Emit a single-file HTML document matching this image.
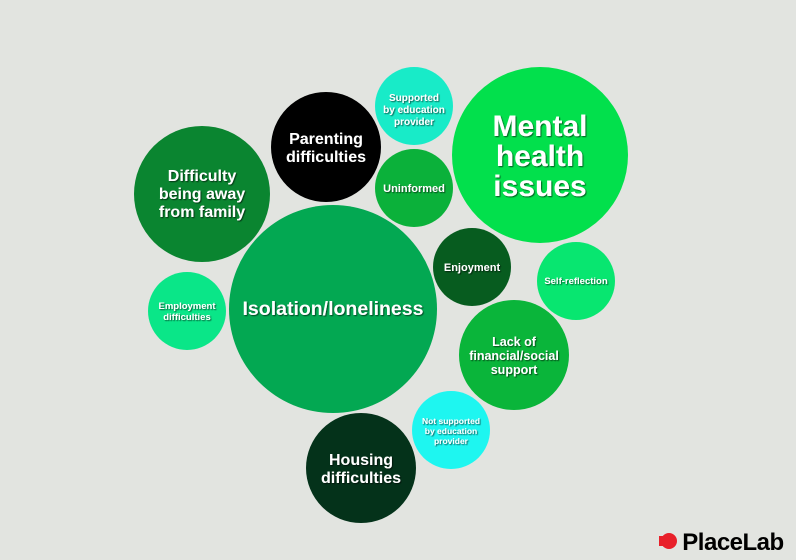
<!DOCTYPE html>
<html><head><style>
html,body{margin:0;padding:0;background:#e2e4e0;}
svg{display:block}
text{font-family:"Liberation Sans",Arial,sans-serif;font-weight:bold;fill:#fff;text-anchor:middle;filter:url(#sh)}
</style></head><body>
<svg width="796" height="560" viewBox="0 0 796 560">
<defs><filter id="sh" x="-20%" y="-20%" width="140%" height="140%"><feDropShadow dx="1" dy="1" stdDeviation="0.6" flood-color="#000" flood-opacity="0.6"/></filter></defs>
<rect width="796" height="560" fill="#e2e4e0"/>
<circle cx="540" cy="155" r="88" fill="#02e04c"/>
<circle cx="414" cy="106" r="39" fill="#18ebc8"/>
<circle cx="326" cy="147" r="55" fill="#000"/>
<circle cx="414" cy="188" r="39" fill="#0bb13a"/>
<circle cx="202" cy="194" r="68" fill="#0a8530"/>
<circle cx="333" cy="309" r="104" fill="#03a852"/>
<circle cx="187" cy="311" r="39" fill="#0ae688"/>
<circle cx="472" cy="267" r="39" fill="#075c1f"/>
<circle cx="576" cy="281" r="39" fill="#08e670"/>
<circle cx="514" cy="355" r="55" fill="#0ab53a"/>
<circle cx="451" cy="430" r="39" fill="#1ef6f0"/>
<circle cx="361" cy="468" r="55" fill="#04321a"/>

<text x="540" y="136" font-size="30">Mental</text>
<text x="540" y="166" font-size="30">health</text>
<text x="540" y="196" font-size="30">issues</text>
<text x="414" y="101" font-size="10">Supported</text>
<text x="414" y="113" font-size="10">by education</text>
<text x="414" y="125" font-size="10">provider</text>
<text x="326" y="144" font-size="16">Parenting</text>
<text x="326" y="162" font-size="16">difficulties</text>
<text x="414" y="192" font-size="11">Uninformed</text>
<text x="202" y="181" font-size="16">Difficulty</text>
<text x="202" y="199" font-size="16">being away</text>
<text x="202" y="217" font-size="16">from family</text>
<text x="333" y="315" font-size="19.5">Isolation/loneliness</text>
<text x="187" y="309" font-size="9.5">Employment</text>
<text x="187" y="320" font-size="9.5">difficulties</text>
<text x="472" y="271" font-size="11">Enjoyment</text>
<text x="576" y="284" font-size="9.5">Self-reflection</text>
<text x="514" y="346" font-size="12.5">Lack of</text>
<text x="514" y="360" font-size="12.5">financial/social</text>
<text x="514" y="374" font-size="12.5">support</text>
<text x="451" y="424" font-size="8.5">Not supported</text>
<text x="451" y="434" font-size="8.5">by education</text>
<text x="451" y="444" font-size="8.5">provider</text>
<text x="361" y="465" font-size="16">Housing</text>
<text x="361" y="483" font-size="16">difficulties</text>

<g fill="#e8202a">
<circle cx="669" cy="541" r="8"/>
<rect x="659" y="536" width="6" height="10"/>
</g>
<text x="733" y="550" font-size="24" style="fill:#000;filter:none;letter-spacing:-0.5px">PlaceLab</text>
</svg>
</body></html>
